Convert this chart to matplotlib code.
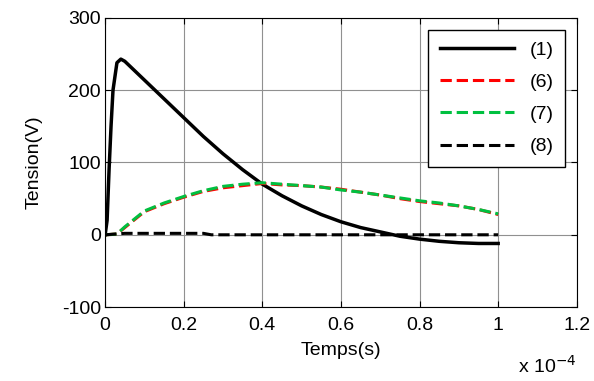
import numpy as np
import matplotlib.pyplot as plt
from matplotlib.ticker import FuncFormatter

# time samples (x 1e-4 s)
t1 = [0, 0.005, 0.01, 0.015, 0.02, 0.03, 0.04, 0.05, 0.1, 0.15, 0.2, 0.25, 0.3, 0.35,
      0.4, 0.45, 0.5, 0.55, 0.6, 0.65, 0.7, 0.75, 0.8, 0.85, 0.9, 0.95, 1.0]
v1 = [0, 20, 90, 150, 200, 238, 243, 240, 214, 188, 162, 136, 112, 90,
      70, 54, 40, 28, 18, 10, 4, -2, -6, -9, -11, -12, -12]

t6 = [0, 0.03, 0.05, 0.1, 0.15, 0.2, 0.25, 0.3, 0.35, 0.4, 0.45, 0.5, 0.55,
      0.6, 0.65, 0.7, 0.75, 0.8, 0.85, 0.9, 0.95, 1.0]
v6 = [0, 1, 10, 32, 43, 52, 60, 65, 68, 71, 69, 68, 66,
      63, 59, 55, 50, 46, 43, 40, 35, 28]
v7 = [0, 1, 11, 33, 44, 53, 61, 67, 70, 72, 70, 68, 66,
      62, 59, 55, 51, 47, 44, 40, 35, 29]

t8 = [0, 0.05, 0.1, 0.2, 0.25, 0.27, 0.3, 0.5, 0.7, 1.0]
v8 = [0, 2, 2, 2, 2, 0, 0, 0, 0, 0]

plt.rcParams['font.family'] = 'Liberation Sans'
plt.rcParams['axes.unicode_minus'] = False
fig = plt.figure(figsize=(5.94, 3.81), dpi=100)
ax = fig.add_axes([0.177, 0.194, 0.794, 0.759])

ax.plot(np.array(t1) * 1e-4, v1, 'k-', lw=2.5, label='(1)')
ax.plot(np.array(t6) * 1e-4, v6, 'r--', lw=2.2, label='(6)')
ax.plot(np.array(t6) * 1e-4, v7, '--', color='#00c040', lw=2.2, label='(7)')
ax.plot(np.array(t8) * 1e-4, v8, 'k--', lw=2.2, label='(8)')

ax.set_xlim(0, 1.2e-4)
ax.set_ylim(-100, 300)
ax.set_xticks(np.arange(0, 1.21e-4, 0.2e-4))
ax.set_yticks([-100, 0, 100, 200, 300])
ax.xaxis.set_major_formatter(FuncFormatter(lambda x, p: '%g' % round(x / 1e-4, 2)))
ax.grid(True, color='#909090', lw=0.8)
ax.tick_params(direction='in', labelsize=14, top=True, right=True, length=4, pad=3)
ax.tick_params(axis='x', pad=7)
ax.set_xlabel('Temps(s)', fontsize=14, labelpad=6)
ax.set_ylabel('Tension(V)', fontsize=14, labelpad=14)
ax.text(1.0, -0.165, 'x 10$^{-4}$', transform=ax.transAxes, ha='right', va='top', fontsize=14)

leg = ax.legend(loc='upper right', fontsize=14, fancybox=False, framealpha=1,
                edgecolor='black', handlelength=3.8, borderpad=0.6, labelspacing=0.75,
                borderaxespad=0.6)
leg.get_frame().set_linewidth(1)

plt.savefig('out.png')
